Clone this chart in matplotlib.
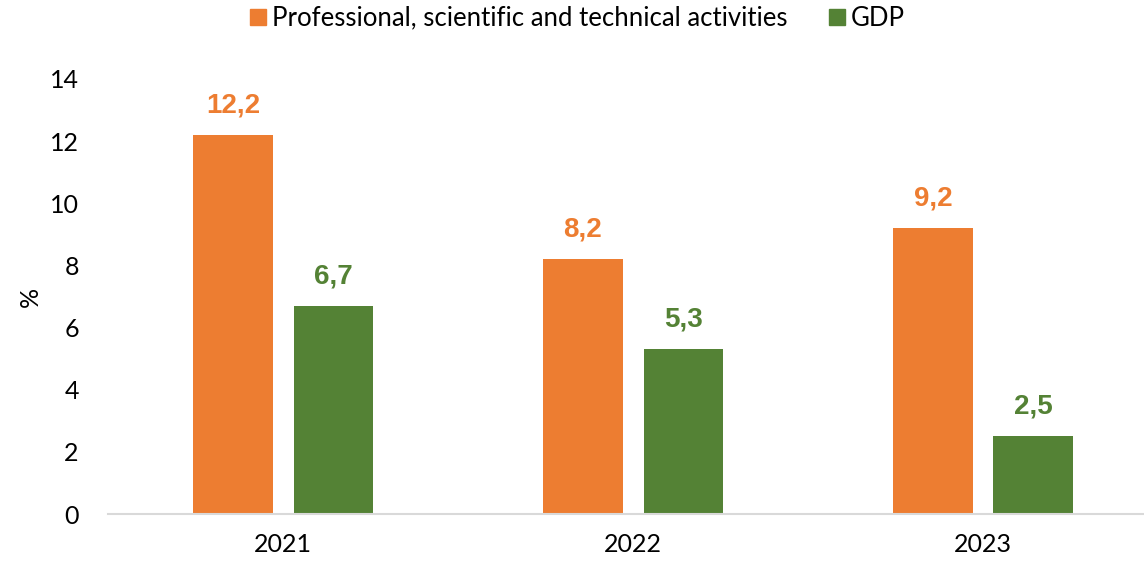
import matplotlib.pyplot as plt
import numpy as np

years = ['2021', '2022', '2023']
professional = [12.2, 8.2, 9.2]
gdp = [6.7, 5.3, 2.5]
series_names = ['Professional, scientific and technical activities', 'GDP']
colors = ['#ED7D31', '#548235']

fig = plt.figure(figsize=(11.44, 5.64), dpi=100)
ax = fig.add_axes([108 / 1144, 50 / 564, 1036 / 1144, 435 / 564])

x = np.arange(len(years))
w = 0.226
off = 0.143
b1 = ax.bar(x - off, professional, w, color=colors[0], label=series_names[0])
b2 = ax.bar(x + off, gdp, w, color=colors[1], label=series_names[1])

for bars, vals, c in [(b1, professional, colors[0]), (b2, gdp, colors[1])]:
    for rect, v in zip(bars, vals):
        ax.annotate(f'{v:.1f}'.replace('.', ','),
                    (rect.get_x() + rect.get_width() / 2, v),
                    xytext=(0, 12), textcoords='offset points',
                    ha='center', va='bottom', color=c,
                    fontsize=20, fontweight='bold', family='Liberation Sans')

ax.set_xlim(-0.5, 2.46)
ax.set_ylim(0, 14)
ax.set_yticks(range(0, 15, 2))
ax.set_xticks(x)
ax.set_xticklabels(years)
for s in ['top', 'right', 'left']:
    ax.spines[s].set_visible(False)
ax.spines['bottom'].set_color('#D9D9D9')
ax.spines['bottom'].set_linewidth(1.5)
ax.tick_params(length=0, labelsize=18)
ax.tick_params(axis='y', pad=21)
ax.tick_params(axis='x', pad=14)
for lbl in ax.get_xticklabels() + ax.get_yticklabels():
    lbl.set_family('Lato')
ax.set_ylabel('%', fontsize=18, family='Lato')
ax.yaxis.set_label_coords(-0.064, 0.5)

handles = [plt.Line2D([], [], marker='s', linestyle='', markersize=12, color=c) for c in colors]
fig.legend(handles, series_names, loc='center', bbox_to_anchor=(575 / 1144, 1 - 18 / 564),
           ncol=2, frameon=False, prop={'family': 'Lato', 'size': 18.5},
           handletextpad=0.05, columnspacing=1.4, handlelength=1.0)

fig.savefig('out.png', dpi=100)
